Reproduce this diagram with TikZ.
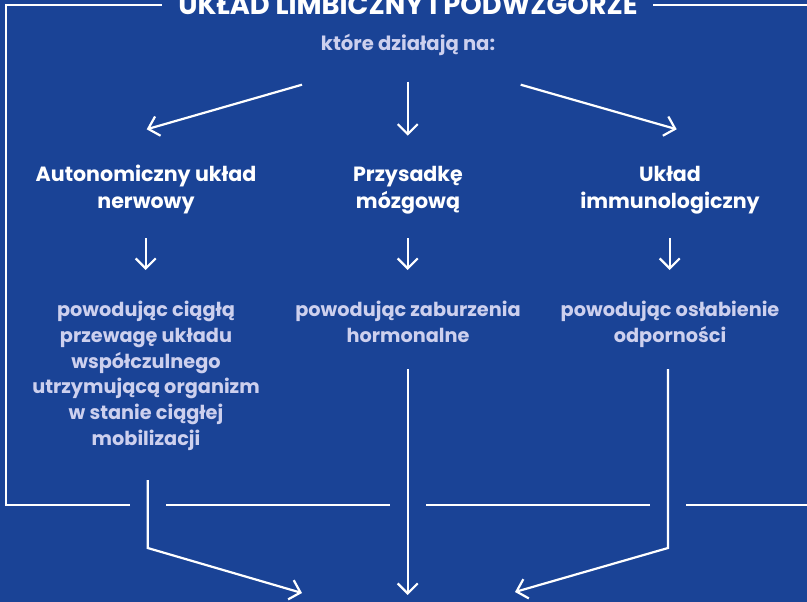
\documentclass[tikz,border=0pt]{standalone}
\usepackage{fontspec}
\setmainfont{Poppins}
\usetikzlibrary{arrows.meta}
\definecolor{bgblue}{RGB}{26,67,150}
\definecolor{lav}{RGB}{205,208,238}
\begin{document}
\begin{tikzpicture}[x=1pt,y=-1pt,
  line/.style={draw=white, line width=2.2pt, line join=miter},
  arr/.style={line, -{Straight Barb[length=10pt,width=20pt]}},
  head/.style={text=white, font=\bfseries\fontsize{20.6}{26.3}\selectfont, align=center, inner sep=0pt},
  sub/.style={text=lav, font=\bfseries\fontsize{19.3}{25.8}\selectfont, align=center, inner sep=0pt},
  ttl/.style={text=white, font=\bfseries\fontsize{27.3}{30}\selectfont, inner sep=0pt}
]
\fill[bgblue] (0,0) rectangle (807,602);
\useasboundingbox (0,0) rectangle (807,602);

% title and frame
\node[ttl, anchor=base] (title) at (408,15) {UKŁAD LIMBICZNY I PODWZGÓRZE};
\draw[line] (162,5.3) -- (6,5.3) -- (6,505) -- (130,505);
\draw[line] (653,5.3) -- (807,5.3);
\draw[line] (166,505) -- (390,505);
\draw[line] (426,505) -- (650,505);
\draw[line] (686,505) -- (807,505);

% intro
\node[sub, font=\bfseries\fontsize{19.6}{25.8}\selectfont, anchor=base] (kt) at (408,50.7) {które działają na:};

% headings (base = last line)
\node[head, anchor=base] (h1) at (146,208) {Autonomiczny układ\\nerwowy};
\node[head, anchor=base] (h2) at (408,208) {Przysadkę\\mózgową};
\node[head, anchor=base] (h3) at (670,208) {Układ\\immunologiczny};

% effects (base = last line)
\node[sub, anchor=base] (s1) at (146,445.5) {powodując ciągłą\\przewagę układu\\współczulnego\\utrzymującą organizm\\w stanie ciągłej\\mobilizacji};
\node[sub, anchor=base] (s2) at (408,342.3) {powodując zaburzenia\\hormonalne};
\node[sub, anchor=base] (s3) at (670,342.3) {powodując osłabienie\\odporności};

% arrow coordinates
\coordinate (t1a) at (302,84.7);  \coordinate (t1b) at (146.7,129.3);
\coordinate (t2a) at (407.7,81.7); \coordinate (t2b) at (407.7,135.7);
\coordinate (t3a) at (520.7,84.7); \coordinate (t3b) at (676.7,129.3);
\draw[arr] (t1a) -- (t1b);
\draw[arr] (t2a) -- (t2b);
\draw[arr] (t3a) -- (t3b);

\foreach \n/\x in {1/145.7,2/407.7,3/669.7}{
  \coordinate (m\n a) at (\x,238.3);
  \coordinate (m\n b) at (\x,270);
  \draw[arr] (m\n a) -- (m\n b);
}

% bottom connectors
\coordinate (b1a) at (147.7,480); \coordinate (b1c) at (147.7,548); \coordinate (b1t) at (302,593);
\coordinate (b2a) at (407.7,369); \coordinate (b2t) at (407.7,595);
\coordinate (b3a) at (668,369);   \coordinate (b3c) at (668,548);   \coordinate (b3t) at (515,592);
\draw[arr] (b1a) -- (b1c) -- (b1t);
\draw[arr] (b2a) -- (b2t);
\draw[arr] (b3a) -- (b3c) -- (b3t);
\end{tikzpicture}
\end{document}
